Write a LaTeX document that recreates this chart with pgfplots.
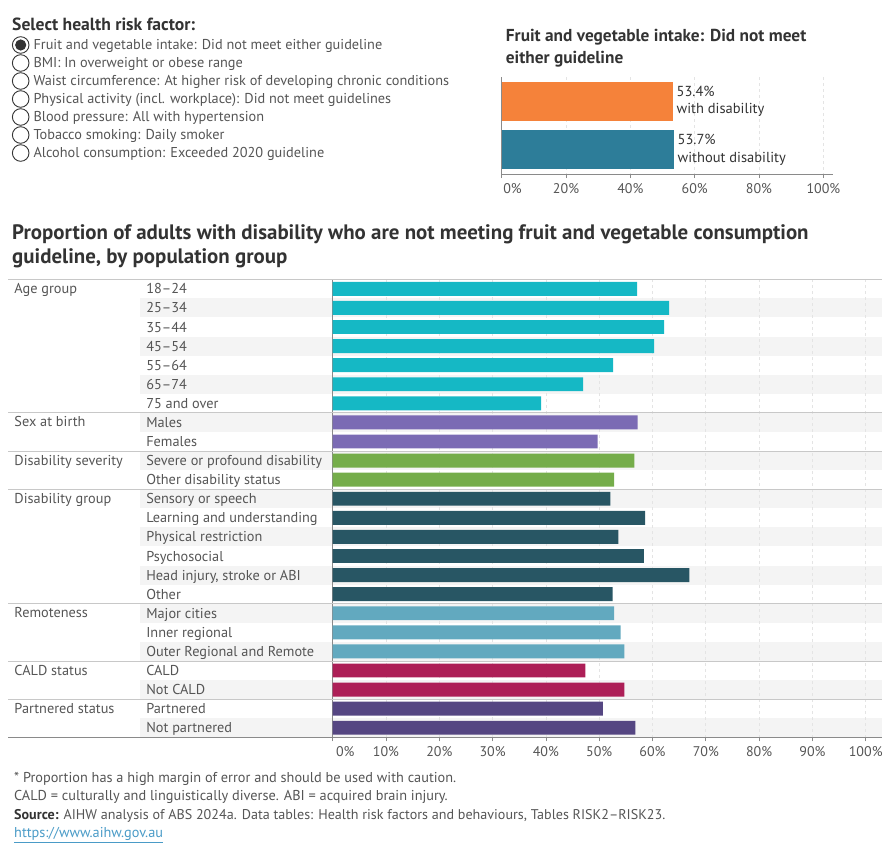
\documentclass[border=0pt]{standalone}
\usepackage{fontspec}
\setmainfont{PT Sans}
\usepackage{pgfplots}
\pgfplotsset{compat=1.18}
\definecolor{cAge}{HTML}{15B8C5}
\definecolor{cSex}{HTML}{7B6BB4}
\definecolor{cSev}{HTML}{75AD4A}
\definecolor{cDis}{HTML}{285664}
\definecolor{cRem}{HTML}{62A9BF}
\definecolor{cCald}{HTML}{AD1F57}
\definecolor{cPart}{HTML}{554682}
\definecolor{cOrange}{HTML}{F5823A}
\definecolor{cTeal}{HTML}{2D7D99}
\definecolor{rowshade}{HTML}{F4F4F4}
\definecolor{sepc}{HTML}{C8C8C8}
\definecolor{axisgray}{HTML}{8A8A8A}
\definecolor{gridc}{HTML}{E4E4E4}
\definecolor{txt}{HTML}{555555}
\definecolor{ttl}{HTML}{333333}
\definecolor{linkc}{HTML}{4A9BC7}
\newcommand{\bodysz}{\fontsize{14.3bp}{17bp}\selectfont}
\newcommand{\ticksz}{\fontsize{14bp}{17bp}\selectfont}
\begin{document}
\begin{tikzpicture}
\useasboundingbox (0,0) rectangle (890bp,-850bp);
% ---------- radio list ----------
\node[anchor=base west, inner sep=0pt, text=ttl] at (12bp,-30bp) {\fontsize{17.6bp}{20bp}\selectfont\bfseries Select health risk factor:};
\foreach \t [count=\k from 0] in {Fruit and vegetable intake: Did not meet either guideline,
  BMI: In overweight or obese range,
  Waist circumference: At higher risk of developing chronic conditions,
  Physical activity (incl. workplace): Did not meet guidelines,
  Blood pressure: All with hypertension,
  Tobacco smoking: Daily smoker,
  Alcohol consumption: Exceeded 2020 guideline} {
  \draw[color=ttl, line width=0.9bp, fill=white] (20.7bp,{-(45+18*\k)*1bp}) circle (8.3bp);
  \node[anchor=base west, inner sep=0pt, text=txt] at (33.3bp,{-(49.8+18*\k)*1bp}) {\bodysz \t};
}
\fill[ttl] (20.7bp,-45bp) circle (5.6bp);
% ---------- top-right title ----------
\node[anchor=base west, inner sep=0pt, text=ttl] at (505.7bp,-41.5bp) {\fontsize{17.3bp}{20bp}\selectfont\bfseries Fruit and vegetable intake: Did not meet};
\node[anchor=base west, inner sep=0pt, text=ttl] at (505.7bp,-63bp) {\fontsize{17.3bp}{20bp}\selectfont\bfseries either guideline};
% ---------- top-right chart ----------
\begin{axis}[
  at={(501.7bp,-174bp)}, anchor=south west,
  scale only axis, width=331.3bp, height=97bp,
  xmin=0, xmax=103, ymin=-0.5, ymax=1.5, y dir=reverse,
  xbar, bar width=0.8, bar shift=0pt,
  axis x line*=bottom, axis y line*=left,
  axis line style={color=axisgray, line width=0.8bp},
  xtick={0,20,...,100},
  xticklabels={\makebox[0pt][l]{\hspace{1.6bp}0\%},20\%,40\%,60\%,80\%,100\%},
  xticklabel style={text=txt, font=\ticksz, yshift=-2bp},
  xtick align=outside, major tick length=4bp,
  xtick style={color=axisgray, line width=0.8bp},
  ytick=\empty,
  xmajorgrids, grid style={dashed, color=gridc, line width=0.8bp, dash pattern=on 3bp off 3bp},
  clip=false,
  nodes near coords style={anchor=west, inner sep=0pt, xshift=3bp, align=left, text=ttl, font=\fontsize{14.5bp}{17.3bp}\selectfont},
]
\addplot[fill=cOrange, draw=none, nodes near coords={53.4\%\\with disability}] coordinates {(53.4,0)};
\addplot[fill=cTeal, draw=none, nodes near coords={53.7\%\\without disability}] coordinates {(53.7,1)};
\end{axis}
% ---------- main title ----------
\node[anchor=base west, inner sep=0pt, text=ttl] at (12bp,-239.5bp) {\fontsize{20.9bp}{24bp}\selectfont\bfseries Proportion of adults with disability who are not meeting fruit and vegetable consumption};
\node[anchor=base west, inner sep=0pt, text=ttl] at (12bp,-263bp) {\fontsize{20.9bp}{24bp}\selectfont\bfseries guideline, by population group};
% ---------- row shading ----------
\foreach \i in {1,3,...,23} {
  \fill[rowshade] (140bp,{-(279.3+\i*19.083)*1bp}) rectangle (881.7bp,{-(279.3+(\i+1)*19.083)*1bp});
}
% ---------- main chart ----------
\begin{axis}[
  at={(332.7bp,-737.3bp)}, anchor=south west,
  scale only axis, width=549bp, height=458bp,
  xmin=0, xmax=103, ymin=-0.5, ymax=23.5, y dir=reverse,
  xbar, bar width=0.73, bar shift=0pt,
  axis x line*=bottom, axis y line*=left,
  axis line style={color=axisgray, line width=0.8bp},
  xtick={0,10,...,100},
  xticklabels={\makebox[0pt][l]{\hspace{3.3bp}0\%},10\%,20\%,30\%,40\%,50\%,60\%,70\%,80\%,90\%,100\%},
  xticklabel style={text=txt, font=\ticksz, yshift=-2bp},
  xtick align=outside, major tick length=4bp,
  xtick style={color=axisgray, line width=0.8bp},
  ytick={0,...,23},
  yticklabels={18--24,25--34,35--44,45--54,55--64,65--74,75 and over,Males,Females,Severe or profound disability,Other disability status,Sensory or speech,Learning and understanding,Physical restriction,Psychosocial,{Head injury, stroke or ABI},Other,Major cities,Inner regional,Outer Regional and Remote,CALD,Not CALD,Partnered,Not partnered},
  yticklabel style={anchor=base west, inner sep=0pt, xshift=-182.6bp, yshift=-5bp, text=txt, font=\bodysz},
  ytick style={draw=none},
  xmajorgrids, grid style={dashed, color=gridc, line width=0.8bp, dash pattern=on 3bp off 3bp},
  clip=false,
]
\addplot[fill=cAge, draw=none] coordinates {(57.1,0) (63.1,1) (62.2,2) (60.3,3) (52.6,4) (47.0,5) (39.1,6)};
\addplot[fill=cSex, draw=none] coordinates {(57.2,7) (49.7,8)};
\addplot[fill=cSev, draw=none] coordinates {(56.6,9) (52.8,10)};
\addplot[fill=cDis, draw=none] coordinates {(52.1,11) (58.6,12) (53.6,13) (58.4,14) (66.9,15) (52.5,16)};
\addplot[fill=cRem, draw=none] coordinates {(52.8,17) (54.0,18) (54.7,19)};
\addplot[fill=cCald, draw=none] coordinates {(47.4,20) (54.7,21)};
\addplot[fill=cPart, draw=none] coordinates {(50.7,22) (56.8,23)};
\end{axis}
% ---------- separators ----------
\foreach \k in {0,7,9,11,17,20,22} {
  \draw[sepc, line width=0.9bp] (8bp,{-(279.3+\k*19.083)*1bp}) -- (881.7bp,{-(279.3+\k*19.083)*1bp});
}
\draw[axisgray, line width=0.8bp] (8bp,-737.3bp) -- (332.7bp,-737.3bp);
% ---------- group labels ----------
\foreach \g/\k in {Age group/0,Sex at birth/7,Disability severity/9,Disability group/11,Remoteness/17,CALD status/20,Partnered status/22} {
  \node[anchor=base west, inner sep=0pt, text=txt] at (14.3bp,{-(279.3+(\k+0.5)*19.083+4.5)*1bp}) {\bodysz \g};
}
% ---------- footnotes ----------
\node[anchor=base west, inner sep=0pt, text=txt] at (14bp,-782bp) {\bodysz * Proportion has a high margin of error and should be used with caution.};
\node[anchor=base west, inner sep=0pt, text=txt] at (14bp,-800.5bp) {\bodysz CALD = culturally and linguistically diverse. ABI = acquired brain injury.};
\node[anchor=base west, inner sep=0pt, text=txt] at (14bp,-819bp) {\fontsize{14.1bp}{17bp}\selectfont \textbf{\color{ttl}Source:} AIHW analysis of ABS 2024a. Data tables: Health risk factors and behaviours, Tables RISK2--RISK23.};
\node[anchor=base west, inner sep=0pt, text=linkc] at (14bp,-837.5bp) {\bodysz \underline{https://www.aihw.gov.au}};
\end{tikzpicture}
\end{document}
